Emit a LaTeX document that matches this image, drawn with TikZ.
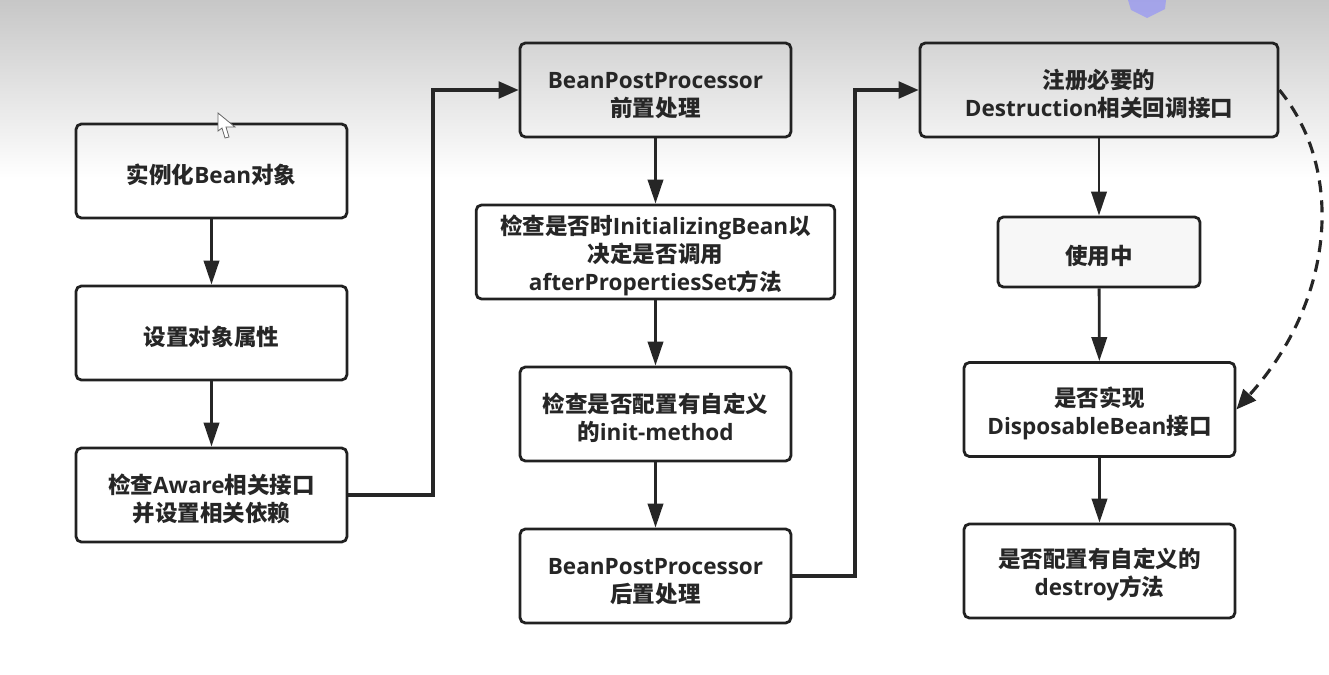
\documentclass[tikz,border=0pt]{standalone}
\usepackage{fontspec}
\setmainfont{Noto Sans CJK SC}
\newfontfamily\latn{Open Sans}
\newcommand{\la}[1]{{\latn\bfseries #1}}
\usetikzlibrary{arrows.meta}

\tikzset{every picture/.style={line width=2.1pt}}
\tikzset{
	procbox/.style={draw=black!87,rounded corners=4pt,minimum width=#1,text width=#1,minimum height=70.5pt,align=center,inner sep=0pt,text=black!85,font=\fontsize{16.9}{21}\selectfont\bfseries,execute at begin node={\rule{0pt}{20pt}}},
	procbox/.default=203.2pt,
	flow/.style={draw=black!85,line width=2.1pt,-{Triangle[length=18pt,width=11.5pt]}},
	elbow/.style={flow,line width=2.35pt,-{Triangle[length=15pt,width=12.5pt]}},
}

\begin{document}
\begin{tikzpicture}[x=0.75pt,y=0.75pt,yscale=-1,xscale=1]
	\useasboundingbox (0,0) rectangle (1329,675);
	
	%Background gradient
	\fill [top color=black!22,bottom color=white,draw=none] (0,0) rectangle (1329,178);
	%Watermark logo
	\fill [blue!45!white,opacity=0.6] (1128,0) -- (1166,0) -- (1165,9) -- (1147,18) -- (1131,10) -- cycle;
	
	%Shape: Rectangle
	\node [procbox] (inst) at (211.5,171) {实例化\la{Bean}对象};
	\node [procbox] (attr) at (211.5,333) {设置对象属性};
	\node [procbox] (aware) at (211.5,495) {检查\la{Aware}相关接口\\并设置相关依赖};
	\node [procbox] (pre) at (655.5,90) {\la{BeanPostProcessor}\\前置处理};
	\node [procbox=269pt] (initbean) at (655.5,252) {检查是否时\la{InitializingBean}以\\决定是否调用\\\la{afterPropertiesSet}方法};
	\node [procbox] (initm) at (655.5,414) {检查是否配置有自定义\\的\la{init-method}};
	\node [procbox] (post) at (655.5,576) {\la{BeanPostProcessor}\\后置处理};
	\node [procbox=268.5pt] (destr) at (1099,90) {注册必要的\\\la{Destruction}相关回调接口};
	\node [procbox=151.5pt,minimum height=52.5pt,fill=black!3] (use) at (1099,252) {使用中};
	\node [procbox] (disp) at (1099.5,409.5) {是否实现\\\la{DisposableBean}接口};
	\node [procbox] (destroy) at (1099.5,571) {是否配置有自定义的\\\la{destroy}方法};
	
	%Bend points
	\coordinate (bendA) at (433,90);
	\coordinate (bendB) at (855,90);
	
	%Straight Lines
	\draw [flow] (inst) -- (attr);
	\draw [flow] (attr) -- (aware);
	\draw [flow] (pre) -- (initbean);
	\draw [flow] (initbean) -- (initm);
	\draw [flow] (initm) -- (post);
	\draw [flow] (destr) -- (use);
	\draw [flow] (use) -- (disp);
	\draw [flow] (disp) -- (destroy);
	\draw [elbow] (aware.east) -| (bendA) -- (pre.west);
	\draw [elbow] (post.east) -| (bendB) -- (destr.west);
	
	%Curve Lines
	\draw [elbow,dash pattern=on 9pt off 6pt] (destr.east) .. controls (1345,170) and (1335,300) .. (disp.east);
	
	%Mouse cursor
	\draw [draw=black!60,fill=white,line width=0.6pt] (218,113) -- (218,131) -- (222,128) -- (225,138) -- (229,137) -- (226,127) -- (235,127) -- cycle;
	
\end{tikzpicture}
\end{document}
